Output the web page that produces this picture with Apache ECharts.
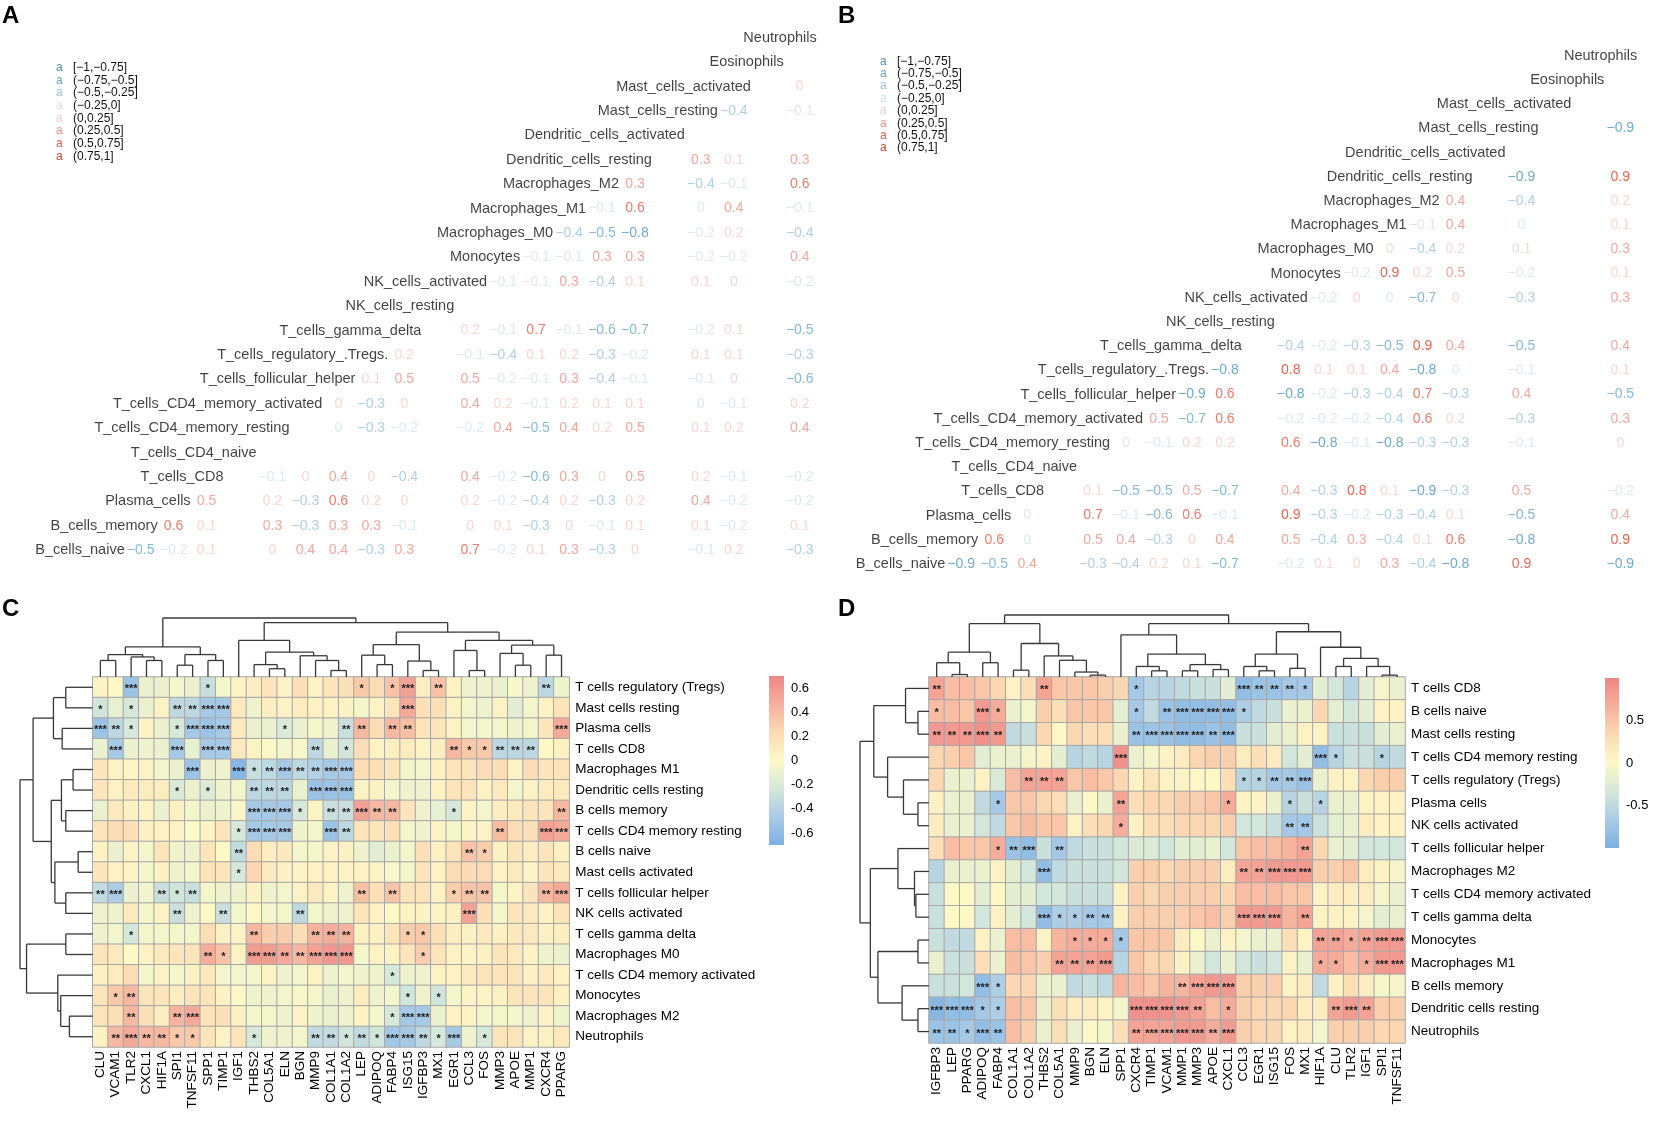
<!DOCTYPE html>
<html>
<head>
<meta charset="utf-8">
<title>Immune cell correlations</title>
<script src="https://cdn.jsdelivr.net/npm/echarts@6/dist/echarts.min.js"></script>
<style>
  html, body { margin: 0; padding: 0; background: #fff; }
  #chart { width: 1656px; height: 1122px; }
</style>
</head>
<body>
<div id="chart"></div>
<script>
// ---- panels A / B : cell type correlation (upper triangle, bottom row first)
var cellTypes = ['B_cells_naive', 'B_cells_memory', 'Plasma_cells', 'T_cells_CD8', 'T_cells_CD4_naive',
  'T_cells_CD4_memory_resting', 'T_cells_CD4_memory_activated', 'T_cells_follicular_helper',
  'T_cells_regulatory_.Tregs.', 'T_cells_gamma_delta', 'NK_cells_resting', 'NK_cells_activated',
  'Monocytes', 'Macrophages_M0', 'Macrophages_M1', 'Macrophages_M2', 'Dendritic_cells_resting',
  'Dendritic_cells_activated', 'Mast_cells_resting', 'Mast_cells_activated', 'Eosinophils', 'Neutrophils'];

// row i holds the values for columns i+1 .. 21 (null = not shown)
var corrA = [
  [-0.5, -0.2, 0.1, null, 0.02, 0.4, 0.4, -0.3, 0.3, null, 0.7, -0.2, 0.1, 0.3, -0.3, 0.02, null, -0.1, 0.2, null, -0.3],
  [0.6, 0.1, null, 0.3, -0.3, 0.3, 0.3, -0.1, null, 0.02, 0.1, -0.3, 0.02, -0.1, 0.1, null, 0.1, -0.2, null, 0.1],
  [0.5, null, 0.2, -0.3, 0.6, 0.2, 0.02, null, 0.2, -0.2, -0.4, 0.2, -0.3, 0.2, null, 0.4, -0.2, null, -0.2],
  [null, -0.1, 0.02, 0.4, 0.02, -0.4, null, 0.4, -0.2, -0.6, 0.3, 0.02, 0.5, null, 0.2, -0.1, null, -0.2],
  [null, null, null, null, null, null, null, null, null, null, null, null, null, null, null, null, null],
  [null, -0.02, -0.3, -0.2, null, -0.2, 0.4, -0.5, 0.4, 0.2, 0.5, null, 0.1, 0.2, null, 0.4],
  [0.02, -0.3, 0.02, null, 0.4, 0.2, -0.1, 0.2, 0.1, 0.1, null, -0.02, -0.1, null, 0.2],
  [0.1, 0.5, null, 0.5, -0.2, -0.1, 0.3, -0.4, -0.1, null, -0.1, 0.02, null, -0.6],
  [0.2, null, -0.1, -0.4, 0.1, 0.2, -0.3, -0.2, null, 0.1, 0.1, null, -0.3],
  [null, 0.2, -0.1, 0.7, -0.1, -0.6, -0.7, null, -0.2, 0.1, null, -0.5],
  [null, null, null, null, null, null, null, null, null, null, null],
  [-0.1, -0.1, 0.3, -0.4, 0.1, null, 0.1, 0.02, null, -0.2],
  [-0.1, -0.1, 0.3, 0.3, null, -0.2, -0.2, null, 0.4],
  [-0.4, -0.5, -0.8, null, -0.2, 0.2, null, -0.4],
  [-0.1, 0.6, null, -0.02, 0.4, null, -0.1],
  [0.3, null, -0.4, -0.1, null, 0.6],
  [null, 0.3, 0.1, null, 0.3],
  [null, null, null, null],
  [-0.4, null, -0.1],
  [null, 0.02],
  [null],
  []
];

var corrB = [
  [-0.9, -0.5, 0.4, null, -0.3, -0.4, 0.2, 0.1, -0.7, null, -0.2, 0.1, 0.02, 0.3, -0.4, -0.8, null, 0.9, null, null, -0.9],
  [0.6, -0.02, null, 0.5, 0.4, -0.3, 0.02, 0.4, null, 0.5, -0.4, 0.3, -0.4, 0.1, 0.6, null, -0.8, null, null, 0.9],
  [-0.02, null, 0.7, -0.1, -0.6, 0.6, -0.1, null, 0.9, -0.3, -0.2, -0.3, -0.4, 0.1, null, -0.5, null, null, 0.4],
  [null, 0.1, -0.5, -0.5, 0.5, -0.7, null, 0.4, -0.3, 0.8, 0.1, -0.9, -0.3, null, 0.5, null, null, -0.2],
  [null, null, null, null, null, null, null, null, null, null, null, null, null, null, null, null, null],
  [-0.02, -0.1, 0.2, 0.2, null, 0.6, -0.8, -0.1, -0.8, -0.3, -0.3, null, -0.1, null, null, 0.02],
  [0.5, -0.7, 0.6, null, -0.2, -0.2, -0.2, -0.4, 0.6, 0.2, null, -0.3, null, null, 0.3],
  [-0.9, 0.6, null, -0.8, -0.2, -0.3, -0.4, 0.7, -0.3, null, 0.4, null, null, -0.5],
  [-0.8, null, 0.8, 0.1, 0.1, 0.4, -0.8, -0.02, null, -0.1, null, null, 0.1],
  [null, -0.4, -0.2, -0.3, -0.5, 0.9, 0.4, null, -0.5, null, null, 0.4],
  [null, null, null, null, null, null, null, null, null, null, null],
  [-0.2, 0.02, -0.02, -0.7, 0.02, null, -0.3, null, null, 0.3],
  [-0.2, 0.9, 0.2, 0.5, null, -0.2, null, null, 0.1],
  [0.02, -0.4, 0.2, null, 0.1, null, null, 0.3],
  [-0.1, 0.4, null, -0.02, null, null, 0.1],
  [0.4, null, -0.4, null, null, 0.2],
  [null, -0.9, null, null, 0.9],
  [null, null, null, null],
  [null, null, -0.9],
  [null, null],
  [null],
  []
];

var binLabels = ['[\u22121,\u22120.75]', '(\u22120.75,\u22120.5]', '(\u22120.5,\u22120.25]', '(\u22120.25,0]',
  '(0,0.25]', '(0.25,0.5]', '(0.5,0.75]', '(0.75,1]'];
var binEdges = [-0.75, -0.5, -0.25, 0, 0.25, 0.5, 0.75];

// ---- panel C heatmap
var genesC = ['CLU', 'VCAM1', 'TLR2', 'CXCL1', 'HIF1A', 'SPI1', 'TNFSF11', 'SPP1', 'TIMP1', 'IGF1', 'THBS2',
  'COL5A1', 'ELN', 'BGN', 'MMP9', 'COL1A1', 'COL1A2', 'LEP', 'ADIPOQ', 'FABP4', 'ISG15', 'IGFBP3', 'MX1',
  'EGR1', 'CCL3', 'FOS', 'MMP3', 'APOE', 'MMP1', 'CXCR4', 'PPARG'];
var rowsC = ['T cells regulatory (Tregs)', 'Mast cells resting', 'Plasma cells', 'T cells CD8', 'Macrophages M1',
  'Dendritic cells resting', 'B cells memory', 'T cells CD4 memory resting', 'B cells naive',
  'Mast cells activated', 'T cells follicular helper', 'NK cells activated', 'T cells gamma delta',
  'Macrophages M0', 'T cells CD4 memory activated', 'Monocytes', 'Macrophages M2', 'Neutrophils'];
var heatC = [
  [0.05, 0.0, -0.54, -0.1, -0.1, -0.05, -0.1, -0.3, -0.05, 0.05, 0.08, 0.15, 0.05, 0.18, 0.05, 0.15, 0.18, 0.33, 0.22, 0.36, 0.54, 0.08, 0.36, 0.05, -0.08, -0.08, -0.1, -0.03, -0.08, -0.36, -0.08],
  [-0.25, -0.12, -0.22, -0.1, 0.05, -0.36, -0.36, -0.48, -0.48, 0.12, -0.08, 0.08, 0.05, 0.1, 0.05, 0.05, 0.06, -0.05, 0.05, 0.15, 0.5, 0.18, 0.18, 0.05, -0.05, -0.08, 0.05, -0.15, -0.05, 0.05, 0.15],
  [-0.54, -0.36, -0.22, 0.05, -0.1, -0.22, -0.48, -0.54, -0.48, 0.12, -0.1, -0.1, -0.2, -0.1, -0.05, -0.08, -0.3, 0.42, 0.22, 0.42, 0.38, 0.15, 0.15, 0.05, -0.05, -0.05, -0.05, -0.08, -0.05, 0.15, 0.5],
  [-0.1, -0.48, -0.1, -0.08, -0.1, -0.48, -0.12, -0.48, -0.48, 0.12, 0.05, 0.0, -0.05, -0.03, -0.36, -0.1, -0.25, 0.2, 0.05, 0.08, 0.1, 0.05, 0.08, 0.42, 0.33, 0.33, -0.36, -0.36, -0.36, 0.0, 0.06],
  [0.15, 0.05, 0.02, 0.05, -0.05, -0.1, -0.54, -0.1, -0.08, -0.65, -0.3, -0.36, -0.48, -0.36, -0.42, -0.48, -0.48, 0.2, 0.18, 0.15, -0.05, -0.05, 0.06, 0.15, 0.15, 0.2, 0.2, 0.05, 0.2, 0.15, 0.15],
  [0.15, 0.05, 0.12, 0.1, 0.1, -0.2, -0.1, -0.18, -0.08, -0.05, -0.36, -0.36, -0.36, -0.1, -0.54, -0.54, -0.54, 0.05, 0.06, -0.05, -0.08, -0.08, 0.05, 0.15, 0.15, 0.05, 0.12, -0.05, 0.05, 0.1, 0.12],
  [-0.1, 0.12, 0.06, 0.05, -0.1, 0.06, -0.05, -0.1, -0.08, -0.02, -0.48, -0.48, -0.48, -0.22, 0.05, -0.3, -0.3, 0.54, 0.42, 0.42, 0.15, -0.08, -0.12, -0.22, 0.05, -0.05, 0.08, 0.12, 0.15, 0.15, 0.42],
  [0.15, 0.22, 0.18, 0.06, 0.05, 0.05, 0.0, 0.04, 0.15, -0.22, -0.48, -0.48, -0.48, -0.08, -0.05, -0.54, -0.36, 0.15, 0.15, 0.18, -0.05, -0.08, 0.05, -0.05, 0.05, 0.05, 0.4, 0.2, 0.18, 0.54, 0.5],
  [0.05, -0.1, 0.05, -0.05, 0.15, -0.08, -0.08, 0.15, 0.0, -0.33, 0.22, 0.08, 0.12, -0.05, -0.05, 0.05, 0.06, -0.08, -0.15, -0.1, -0.05, 0.18, 0.06, 0.15, 0.36, 0.3, 0.06, 0.15, 0.08, 0.15, 0.06],
  [0.15, 0.05, 0.05, -0.05, 0.06, -0.08, -0.05, 0.15, 0.15, -0.22, 0.25, 0.12, 0.06, 0.05, 0.05, 0.05, 0.05, 0.05, 0.05, -0.03, -0.05, 0.15, 0.05, 0.22, 0.22, 0.22, 0.05, 0.12, 0.05, 0.15, 0.12],
  [-0.33, -0.45, -0.1, -0.06, -0.3, -0.25, -0.3, -0.05, -0.08, -0.08, 0.06, -0.08, -0.05, 0.05, 0.12, 0.05, -0.08, 0.38, 0.18, 0.36, 0.15, 0.15, 0.05, 0.3, 0.36, 0.36, -0.05, 0.05, 0.15, 0.42, 0.5],
  [-0.08, -0.08, 0.12, -0.05, 0.05, -0.3, -0.08, 0.0, -0.3, -0.05, 0.0, -0.05, -0.05, -0.36, -0.05, -0.08, -0.08, 0.15, 0.05, 0.0, 0.05, 0.06, 0.05, 0.06, 0.54, 0.18, -0.05, 0.15, 0.12, 0.05, 0.15],
  [-0.08, -0.05, -0.22, -0.05, -0.05, -0.05, -0.05, 0.2, 0.06, 0.05, 0.42, 0.3, 0.3, 0.2, 0.45, 0.48, 0.45, 0.06, 0.06, 0.15, 0.3, 0.33, 0.18, 0.08, 0.06, 0.12, 0.06, 0.12, 0.12, 0.06, 0.08],
  [0.15, 0.12, 0.0, 0.05, 0.12, 0.15, 0.15, 0.48, 0.36, 0.05, 0.57, 0.57, 0.5, 0.42, 0.54, 0.6, 0.6, -0.05, 0.05, 0.05, 0.15, 0.3, 0.15, 0.05, 0.05, 0.06, 0.15, 0.12, 0.05, -0.08, -0.1],
  [0.06, 0.1, 0.22, -0.05, 0.05, -0.05, 0.05, 0.12, -0.05, -0.05, -0.05, 0.05, -0.08, -0.05, 0.05, -0.08, -0.05, -0.08, -0.08, -0.22, -0.08, -0.08, 0.05, 0.05, 0.12, 0.15, 0.15, 0.15, 0.06, 0.12, 0.05],
  [0.15, 0.33, 0.42, 0.15, 0.15, 0.08, 0.15, 0.15, 0.06, 0.0, -0.08, -0.08, -0.05, -0.03, -0.05, -0.1, -0.08, 0.08, -0.08, -0.05, -0.25, -0.08, -0.25, -0.05, 0.05, 0.05, 0.06, 0.15, 0.15, 0.15, 0.06],
  [0.15, 0.18, 0.42, 0.18, 0.08, 0.45, 0.5, 0.15, 0.18, 0.06, -0.05, -0.05, -0.08, 0.05, -0.08, -0.1, -0.08, 0.05, -0.05, -0.22, -0.48, -0.48, -0.1, 0.05, 0.05, -0.05, -0.05, -0.05, -0.08, 0.05, -0.08],
  [0.06, 0.42, 0.5, 0.42, 0.42, 0.33, 0.33, 0.15, 0.05, 0.15, -0.22, -0.08, -0.08, -0.05, -0.33, -0.33, -0.25, -0.33, -0.25, -0.5, -0.48, -0.36, -0.22, -0.48, -0.08, -0.22, 0.15, 0.15, 0.05, 0.06, 0.12]
];
// number of significance stars per cell (one digit per gene)
var starsC = [
  '0030000100 0000000101 3020000002 0', '1010022330 0000000000 3000000000 0',
  '3210013330 0010002202 2000000000 3', '0300030330 0000201000 0002112220 0',
  '0000003003 1232233000 0000000000 0', '0000010100 2220333000 0000000000 0',
  '0000000000 3331022322 0001000000 2', '0000000001 3330032000 0000002003 3',
  '0000000002 0000000000 0000210000 0', '0000000001 0000000000 0000000000 0',
  '2300212000 0000000202 0001220002 3', '0000020020 0002000000 0000300000 0',
  '0010000000 2000222000 1100000000 0', '0000000210 3322333000 0100000000 0',
  '0000000000 0000000001 0000000000 0', '0120000000 0000000000 1010000000 0',
  '0020023000 0000000001 3300000000 0', '0232211000 1000221213 3213010000 0'
];
// clustering trees: [height, left, right], leaves are indices
var treeCTop = [1.0,
  [0.51, [0.38, [0.28, 0, 1], [0.34, 2, [0.28, 3, 4]]], [0.38, [0.2, 5, 6], [0.28, 7, 8]]],
  [0.92,
    [0.62, 9, [0.42, [0.21, 10, [0.14, 11, 12]], [0.36, 13, [0.28, 14, [0.11, 15, 16]]]]],
    [0.76,
      [0.55, [0.37, 17, [0.21, 18, 19]], [0.27, 20, [0.11, 21, 22]]],
      [0.62, [0.45, 23, [0.11, 24, 25]], [0.54, [0.4, 26, [0.2, 27, 28]], [0.37, 29, 30]]]]]];
var treeCLeft = [1.0,
  [0.82, [0.54, [0.37, 0, 1], [0.42, 2, 3]],
    [0.57, [0.43, [0.27, 4, 5], [0.37, 6, 7]], [0.52, [0.2, 8, 9], [0.37, 10, 11]]]],
  [0.91, [0.37, 12, 13], [0.48, 14, [0.44, 15, [0.32, 16, 17]]]]];
var ticksC = [0.6, 0.4, 0.2, 0, -0.2, -0.4, -0.6];

// ---- panel D heatmap
var genesD = ['IGFBP3', 'LEP', 'PPARG', 'ADIPOQ', 'FABP4', 'COL1A1', 'COL1A2', 'THBS2', 'COL5A1', 'MMP9', 'BGN',
  'ELN', 'SPP1', 'CXCR4', 'TIMP1', 'VCAM1', 'MMP1', 'MMP3', 'APOE', 'CXCL1', 'CCL3', 'EGR1', 'ISG15', 'FOS',
  'MX1', 'HIF1A', 'CLU', 'TLR2', 'IGF1', 'SPI1', 'TNFSF11'];
var rowsD = ['T cells CD8', 'B cells naive', 'Mast cells resting', 'T cells CD4 memory resting',
  'T cells regulatory (Tregs)', 'Plasma cells', 'NK cells activated', 'T cells follicular helper',
  'Macrophages M2', 'T cells CD4 memory activated', 'T cells gamma delta', 'Monocytes', 'Macrophages M1',
  'B cells memory', 'Dendritic cells resting', 'Neutrophils'];
var heatD = [
  [0.77, 0.56, 0.56, 0.49, 0.35, 0.07, 0.28, 0.77, 0.49, 0.49, 0.49, 0.42, 0.35, -0.7, -0.56, -0.56, -0.49, -0.42, -0.42, -0.21, -0.84, -0.77, -0.77, -0.7, -0.7, -0.21, -0.35, -0.56, -0.21, -0.07, -0.14],
  [0.56, 0.56, 0.49, 0.84, 0.7, -0.14, -0.07, 0.42, 0.28, 0.49, 0.49, 0.49, -0.21, -0.7, -0.49, -0.77, -0.84, -0.84, -0.84, -0.84, -0.63, -0.49, -0.42, -0.14, -0.14, 0.35, -0.21, -0.35, -0.21, 0.07, 0.07],
  [0.84, 0.84, 0.84, 0.91, 0.84, -0.49, -0.42, 0.35, 0.0, 0.35, 0.28, 0.28, -0.14, -0.77, -0.77, -0.77, -0.84, -0.84, -0.77, -0.84, -0.42, -0.42, -0.21, -0.14, 0.07, 0.07, -0.42, -0.42, -0.42, -0.21, -0.14],
  [0.35, 0.42, 0.49, -0.21, -0.14, -0.14, -0.07, 0.07, -0.21, -0.56, -0.49, -0.56, 0.91, -0.14, -0.07, 0.07, 0.14, 0.35, 0.42, 0.42, 0.14, 0.28, 0.14, -0.35, -0.21, -0.84, -0.56, -0.42, -0.42, -0.56, -0.49],
  [0.35, -0.14, -0.14, 0.07, -0.28, 0.56, 0.77, 0.77, 0.77, 0.49, 0.56, 0.49, 0.35, 0.07, 0.21, 0.07, 0.07, 0.0, 0.0, 0.28, -0.56, -0.56, -0.7, -0.7, -0.77, -0.14, 0.07, 0.07, 0.35, 0.42, 0.42],
  [0.07, -0.14, -0.14, -0.49, -0.7, 0.49, 0.49, 0.35, 0.28, -0.14, 0.0, -0.14, 0.77, 0.28, 0.35, 0.35, 0.42, 0.42, 0.49, 0.7, 0.07, 0.07, -0.14, -0.56, -0.42, -0.56, -0.14, -0.14, 0.07, 0.07, 0.07],
  [0.14, -0.14, -0.14, -0.35, -0.49, 0.49, 0.56, 0.49, 0.49, 0.07, 0.28, 0.35, 0.7, 0.07, 0.28, 0.28, 0.35, 0.35, 0.35, 0.42, -0.35, -0.35, -0.42, -0.7, -0.7, -0.42, -0.21, -0.14, 0.14, 0.07, 0.07],
  [0.28, 0.56, 0.49, 0.49, 0.7, -0.77, -0.84, -0.42, -0.7, -0.49, -0.42, -0.42, -0.35, -0.28, -0.28, -0.35, -0.21, -0.21, -0.14, -0.35, 0.49, 0.56, 0.56, 0.63, 0.77, 0.35, -0.14, -0.21, -0.35, -0.35, -0.35],
  [-0.56, -0.14, -0.14, -0.14, 0.07, -0.21, -0.35, -0.84, -0.49, -0.42, -0.42, -0.42, -0.35, 0.42, 0.42, 0.35, 0.42, 0.42, 0.42, 0.14, 0.77, 0.77, 0.84, 0.84, 0.84, 0.42, 0.42, 0.49, 0.14, 0.07, -0.07],
  [-0.42, 0.0, 0.0, -0.21, 0.0, -0.21, -0.21, -0.35, -0.35, -0.42, -0.42, -0.42, 0.07, 0.42, 0.35, 0.42, 0.42, 0.42, 0.42, 0.35, 0.56, 0.56, 0.56, 0.49, 0.49, 0.07, 0.14, 0.14, 0.14, -0.07, -0.14],
  [-0.42, 0.0, 0.0, -0.35, 0.07, -0.21, -0.35, -0.84, -0.63, -0.63, -0.7, -0.7, 0.07, 0.42, 0.42, 0.42, 0.42, 0.49, 0.56, 0.42, 0.84, 0.84, 0.84, 0.63, 0.77, 0.07, 0.07, 0.07, -0.07, -0.21, -0.14],
  [-0.42, -0.49, -0.49, 0.07, -0.14, 0.56, 0.56, 0.07, 0.63, 0.7, 0.7, 0.7, -0.7, 0.49, 0.49, 0.49, 0.14, 0.0, -0.14, 0.07, -0.07, -0.14, -0.14, 0.28, 0.07, 0.77, 0.77, 0.7, 0.77, 0.84, 0.84],
  [-0.14, -0.42, -0.42, 0.28, -0.14, 0.56, 0.49, 0.42, 0.77, 0.77, 0.77, 0.84, -0.56, 0.49, 0.35, 0.35, 0.07, -0.14, -0.35, -0.14, -0.35, -0.42, -0.35, 0.07, -0.14, 0.7, 0.7, 0.56, 0.7, 0.84, 0.84],
  [-0.42, -0.42, -0.35, -0.84, -0.63, 0.35, 0.35, -0.14, -0.14, -0.49, -0.42, -0.49, 0.63, 0.56, 0.49, 0.63, 0.63, 0.77, 0.84, 0.84, 0.42, 0.42, 0.42, 0.07, 0.14, -0.49, 0.07, 0.28, 0.14, -0.07, -0.07],
  [-0.91, -0.84, -0.84, -0.7, -0.63, 0.56, 0.49, -0.14, 0.28, 0.14, 0.14, 0.07, -0.07, 0.91, 0.91, 0.91, 0.84, 0.77, 0.56, 0.7, 0.42, 0.35, 0.35, 0.35, 0.14, 0.14, 0.77, 0.84, 0.77, 0.42, 0.42],
  [-0.77, -0.77, -0.7, -0.84, -0.77, 0.56, 0.42, -0.14, 0.28, -0.14, 0.0, -0.07, 0.28, 0.77, 0.77, 0.77, 0.84, 0.84, 0.7, 0.84, 0.42, 0.35, 0.35, 0.07, 0.14, -0.07, 0.42, 0.42, 0.42, 0.35, 0.35]
];
var starsD = [
  '2000000200 0001000000 3222100000 0', '1003100000 0001023333 1000000000 0',
  '2223200000 0002333323 0000000000 0', '0000000000 0030000000 0000031001 0',
  '0000002220 0000000000 1122300000 0', '0000100000 0020000001 0001010000 0',
  '0000000000 0010000000 0002200000 0', '0000123020 0000000000 0000200000 0',
  '0000000300 0000000000 2233300000 0', '0000000000 0000000000 0000000000 0',
  '0000000311 2200000000 3330200000 0', '0000000001 1110000000 0000022123 3',
  '0000000022 2300000000 0000011013 3', '0003100000 0000002333 0000000000 0',
  '3331100000 0003333201 0000002320 0', '2213200000 0002333323 0000000000 0'
];
var treeDTop = [1.0,
  [0.86, [0.4, [0.23, 0, [0.04, 1, 2]], [0.23, 3, 4]],
    [0.54, [0.11, 5, 6], [0.34, 7, [0.27, 8, [0.08, 9, [0.03, 10, 11]]]]]],
  [0.86,
    [0.68, 12, [0.37, [0.17, 13, [0.1, 14, 15]], [0.2, [0.1, 16, 17], [0.12, 18, 19]]]],
    [0.73, [0.37, [0.17, 20, [0.1, 21, 22]], [0.14, 23, 24]],
      [0.48, 25, [0.3, [0.17, 26, 27], [0.17, 28, [0.03, 29, 30]]]]]]];
var treeDLeft = [1.0,
  [0.8, [0.34, 0, [0.16, 1, 2]], [0.6, 3, [0.37, 4, [0.16, 5, 6]]]],
  [0.85, [0.45, 7, [0.21, 8, [0.19, 9, 10]]], [0.74, [0.16, 11, 12], [0.39, 13, [0.16, 14, 15]]]]];
var ticksD = [0.5, 0, -0.5];

// ---- styles
var NARROW = "'Liberation Sans Narrow', 'Arial Narrow', 'Liberation Sans', Arial, sans-serif";
var SANS = "'Liberation Sans', Arial, Helvetica, sans-serif";
var binColors = ['#4895c0', '#66a9cf', '#98c6de', '#d2e4ee', '#f5ccc6', '#ef9184', '#e95a47', '#e63d26'];
var palette = ['#7cb0e3', '#a9cbe6', '#d4e7da', '#fcf9c7', '#fcdab3', '#f6b09c', '#ee8585'];

function binOf(v) {
  for (var k = 0; k < binEdges.length; k++) if (v <= binEdges[k]) return k;
  return binEdges.length;
}
function fmt(v) {
  var r = Math.round(v * 10) / 10;
  if (r === 0) return '0';
  return (r < 0 ? '\u2212' : '') + Math.abs(r);
}

function corrSeries(matrix, gi) {
  var pts = [];
  matrix.forEach(function (row, i) {
    row.forEach(function (v, k) {
      if (v === null) return;
      pts.push({ value: [i + 1 + k, i, v], label: { color: binColors[binOf(v)] } });
    });
  });
  return {
    type: 'scatter', xAxisIndex: gi, yAxisIndex: gi, data: pts, symbolSize: 0, silent: true,
    label: { show: true, position: 'inside', fontFamily: NARROW, fontSize: 14,
      formatter: function (p) { return fmt(p.value[2]); } }
  };
}
function diagSeries(gi) {
  return {
    type: 'scatter', xAxisIndex: gi, yAxisIndex: gi, symbolSize: 0, silent: true,
    data: cellTypes.map(function (n, i) { return [i, i]; }),
    label: { show: true, position: 'inside', align: 'right', offset: [17, 0], color: '#111',
      fontFamily: NARROW, fontSize: 14.5,
      formatter: function (p) { return cellTypes[p.dataIndex]; } }
  };
}
function heatSeries(vals, stars, gi) {
  var data = [];
  var st = stars.map(function (s) { return s.replace(/ /g, ''); });
  vals.forEach(function (row, y) { row.forEach(function (v, x) { data.push([x, y, v]); }); });
  return {
    type: 'heatmap', xAxisIndex: gi, yAxisIndex: gi, data: data, silent: true,
    itemStyle: { borderColor: '#a6a6a6', borderWidth: 1 },
    label: { show: true, color: '#222', fontSize: 11, fontWeight: 'bold', fontFamily: SANS, offset: [0, 2],
      formatter: function (p) {
        var n = +st[p.value[1]][p.value[0]];
        return n ? '***'.slice(0, n) : '';
      } }
  };
}
function dendroSeries(tree, gi, side) {
  var segs = [];
  (function walk(n) {
    if (typeof n === 'number') return { p: n + 0.5, h: 0 };
    var a = walk(n[1]), b = walk(n[2]), h = n[0];
    segs.push([a.p, a.h, a.p, h], [b.p, b.h, b.p, h], [a.p, h, b.p, h]);
    return { p: (a.p + b.p) / 2, h: h };
  })(tree);
  return {
    type: 'custom', xAxisIndex: gi, yAxisIndex: gi, data: segs, clip: false, silent: true,
    renderItem: function (params, api) {
      var a = [api.value(0), api.value(1)], b = [api.value(2), api.value(3)];
      if (side === 'left') { a = [a[1], a[0]]; b = [b[1], b[0]]; }
      var p1 = api.coord(a), p2 = api.coord(b);
      return { type: 'line', shape: { x1: p1[0], y1: p1[1], x2: p2[0], y2: p2[1] },
        style: { stroke: '#383838', lineWidth: 1.3 } };
    }
  };
}
function legendSeries(gi, min, max) {
  var stops = palette.slice().reverse().map(function (c, i, arr) {
    return { offset: i / (arr.length - 1), color: c };
  });
  return {
    type: 'custom', xAxisIndex: gi, yAxisIndex: gi, data: [[0, 0]], clip: false, silent: true,
    renderItem: function (params, api) {
      var p1 = api.coord([0, max]), p2 = api.coord([1, min]);
      return { type: 'rect', shape: { x: p1[0], y: p1[1], width: p2[0] - p1[0], height: p2[1] - p1[1] },
        style: { fill: new echarts.graphic.LinearGradient(0, 0, 0, 1, stops) } };
    }
  };
}

function hidden(gi, min, max, inverse) {
  return { type: 'value', gridIndex: gi, min: min, max: max, inverse: !!inverse, show: false };
}
function catX(gi, names) {
  return { type: 'category', gridIndex: gi, data: names, axisLine: { show: false }, axisTick: { show: false },
    axisLabel: { rotate: 90, interval: 0, margin: 4, fontSize: 13.5, color: '#000', fontFamily: SANS } };
}
function catY(gi, names) {
  return { type: 'category', gridIndex: gi, data: names, inverse: true, position: 'right',
    axisLine: { show: false }, axisTick: { show: false },
    axisLabel: { interval: 0, margin: 6, fontSize: 13.5, color: '#000', fontFamily: SANS } };
}
function legendY(gi, min, max, ticks) {
  return { type: 'value', gridIndex: gi, min: min, max: max, position: 'right',
    axisLine: { show: false }, axisTick: { show: false }, splitLine: { show: false },
    axisLabel: { customValues: ticks, margin: 7, fontSize: 13, color: '#000', fontFamily: SANS } };
}

var grids = [
  { left: 107.7, top: 37.8, width: 692, height: 512.4 },   // 0 A
  { left: 928.3, top: 55.8, width: 692, height: 508.2 },   // 1 B
  { left: 92.7, top: 677, width: 476.5, height: 370 },     // 2 C heatmap
  { left: 92.7, top: 618, width: 476.5, height: 59 },      // 3 C top tree
  { left: 20, top: 677, width: 72.7, height: 370 },        // 4 C left tree
  { left: 769, top: 676, width: 15, height: 169 },         // 5 C legend
  { left: 929, top: 677, width: 476, height: 366 },        // 6 D heatmap
  { left: 929, top: 615, width: 476, height: 62 },         // 7 D top tree
  { left: 860, top: 677, width: 69, height: 366 },         // 8 D left tree
  { left: 1605, top: 678, width: 14, height: 170 }         // 9 D legend
];

var xAxes = [
  hidden(0, 0, 21), hidden(1, 0, 21), catX(2, genesC), hidden(3, 0, 31), hidden(4, 0, 1, true),
  hidden(5, 0, 1), catX(6, genesD), hidden(7, 0, 31), hidden(8, 0, 1, true), hidden(9, 0, 1)
];
var yAxes = [
  hidden(0, 0, 21), hidden(1, 0, 21), catY(2, rowsC), hidden(3, 0, 1), hidden(4, 0, 18, true),
  legendY(5, -0.7, 0.7, ticksC), catY(6, rowsD), hidden(7, 0, 1), hidden(8, 0, 16, true),
  legendY(9, -1, 1, ticksD)
];

var series = [
  corrSeries(corrA, 0), diagSeries(0),
  corrSeries(corrB, 1), diagSeries(1),
  heatSeries(heatC, starsC, 2),          // 4
  dendroSeries(treeCTop, 3, 'top'), dendroSeries(treeCLeft, 4, 'left'), legendSeries(5, -0.7, 0.7),
  heatSeries(heatD, starsD, 6),          // 8
  dendroSeries(treeDTop, 7, 'top'), dendroSeries(treeDLeft, 8, 'left'), legendSeries(9, -1, 1)
];

var graphic = [];
[['A', 2, 4], ['B', 838, 4], ['C', 2, 597], ['D', 838, 597]].forEach(function (t) {
  graphic.push({ type: 'text', left: t[1], top: t[2], style: { text: t[0], fill: '#000',
    font: 'bold 24px ' + SANS } });
});
[[56, 67.6, 12.7], [880, 61.2, 12.4]].forEach(function (lg) {
  binLabels.forEach(function (lab, k) {
    var y = lg[1] + lg[2] * k;
    graphic.push({ type: 'text', x: lg[0], y: y, style: { text: 'a', fill: binColors[k],
      font: '12px ' + NARROW, verticalAlign: 'middle' } });
    graphic.push({ type: 'text', x: lg[0] + 17, y: y, style: { text: lab, fill: '#111',
      font: '12px ' + NARROW, verticalAlign: 'middle' } });
  });
});

var chart = echarts.init(document.getElementById('chart'));
chart.setOption({
  animation: false,
  backgroundColor: '#fff',
  grid: grids,
  xAxis: xAxes,
  yAxis: yAxes,
  visualMap: [
    { type: 'continuous', show: false, min: -0.7, max: 0.7, dimension: 2, seriesIndex: 4,
      inRange: { color: palette } },
    { type: 'continuous', show: false, min: -1, max: 1, dimension: 2, seriesIndex: 8,
      inRange: { color: palette } }
  ],
  series: series,
  graphic: graphic
});
</script>
</body>
</html>
